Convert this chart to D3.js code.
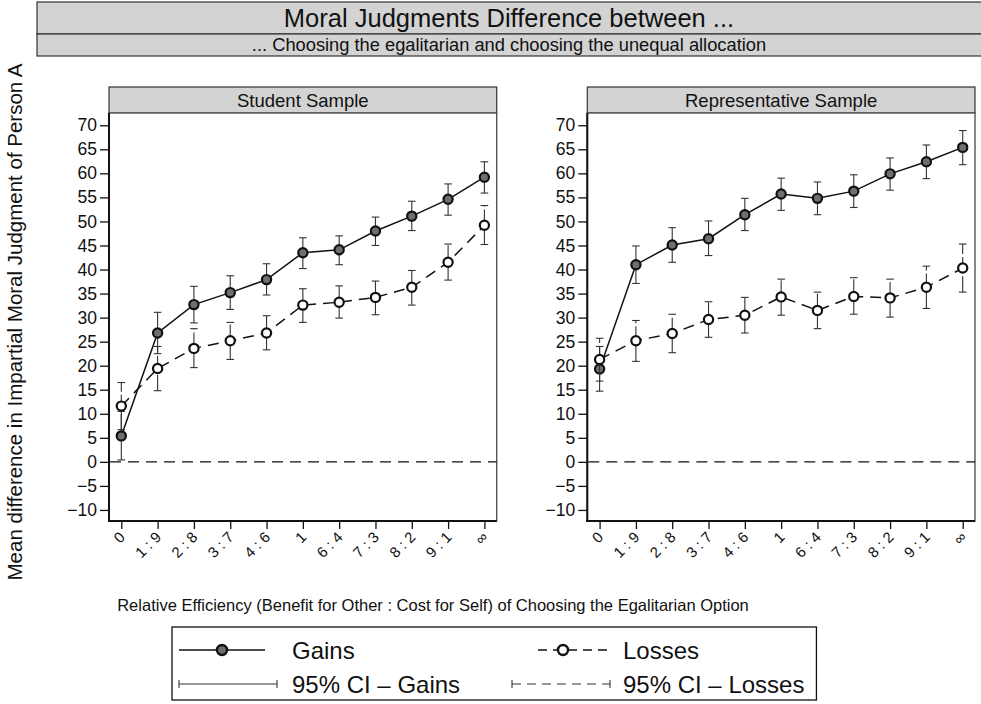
<!DOCTYPE html>
<html>
<head>
<meta charset="utf-8">
<script src="https://cdn.jsdelivr.net/npm/d3@7"></script>
<style>
  html, body { margin: 0; padding: 0; background: #fff; }
  svg { display: block; font-family: "Liberation Sans", Arial, Helvetica, sans-serif; }
</style>
</head>
<body>
<svg id="chart" width="981" height="704"></svg>
<script>
// Efficiency ratios (benefit for other : cost for self)
const categories = ["0", "1 : 9", "2 : 8", "3 : 7", "4 : 6", "1", "6 : 4", "7 : 3", "8 : 2", "9 : 1", "\u221E"];
const yTicks = d3.range(-10, 71, 5);

// Student sample: means and 95% confidence bounds
const studentGains   = [5.4, 26.8, 32.7, 35.2, 37.9, 43.5, 44.1, 48.0, 51.1, 54.6, 59.2];
const studentGainsLo = [0.4, 22.5, 28.9, 31.7, 34.7, 40.2, 41.0, 45.0, 48.1, 51.3, 55.9];
const studentGainsHi = [10.5, 31.1, 36.5, 38.7, 41.2, 46.6, 47.0, 50.9, 54.2, 57.8, 62.4];
const studentLosses   = [11.6, 19.4, 23.6, 25.2, 26.8, 32.6, 33.2, 34.2, 36.3, 41.5, 49.2];
const studentLossesLo = [6.7, 14.8, 19.6, 21.3, 23.3, 29.0, 29.9, 30.6, 32.6, 37.8, 45.2];
const studentLossesHi = [16.5, 24.0, 27.7, 29.0, 30.4, 36.0, 36.6, 37.6, 39.8, 45.3, 53.3];

// Representative sample: means and 95% confidence bounds
const repGains   = [19.3, 41.0, 45.1, 46.4, 51.4, 55.7, 54.8, 56.3, 59.9, 62.4, 65.4];
const repGainsLo = [14.7, 37.1, 41.5, 42.9, 48.1, 52.3, 51.4, 52.9, 56.5, 58.9, 61.8];
const repGainsHi = [24.0, 44.9, 48.7, 50.1, 54.8, 59.0, 58.2, 59.7, 63.2, 65.9, 68.9];
const repLosses   = [21.3, 25.2, 26.7, 29.6, 30.5, 34.3, 31.5, 34.4, 34.1, 36.3, 40.3];
const repLossesLo = [16.8, 20.9, 22.7, 25.9, 26.8, 30.5, 27.7, 30.7, 30.1, 31.9, 35.3];
const repLossesHi = [25.7, 29.4, 30.7, 33.3, 34.2, 38.0, 35.3, 38.3, 38.0, 40.7, 45.3];

const panelTitles = ["Student Sample", "Representative Sample"];
const titleText = "Moral Judgments Difference between ...";
const subtitleText = "... Choosing the egalitarian and choosing the unequal allocation";
const xTitle = "Relative Efficiency (Benefit for Other : Cost for Self) of Choosing the Egalitarian Option";
const yTitle = "Mean difference in Impartial Moral Judgment of Person A";
const legendLabels = ["Gains", "Losses", "95% CI \u2013 Gains", "95% CI \u2013 Losses"];

const panels = [
  { title: panelTitles[0], gains: studentGains, gLo: studentGainsLo, gHi: studentGainsHi,
    losses: studentLosses, lLo: studentLossesLo, lHi: studentLossesHi },
  { title: panelTitles[1], gains: repGains, gLo: repGainsLo, gHi: repGainsHi,
    losses: repLosses, lLo: repLossesLo, lHi: repLossesHi }
];

const svg = d3.select("#chart");
const GRAY_FILL = "#d3d3d3";
const GAIN_FILL = "#6f6f6f";
const DASH = "11,7";
const FONT = "'Liberation Sans', Arial, sans-serif";

// Overall title boxes
const tb = svg.append("g");
tb.append("rect").attr("x", 37).attr("y", 2).attr("width", 960).attr("height", 32)
  .attr("fill", GRAY_FILL).attr("stroke", "#333").attr("stroke-width", 1.2);
tb.append("text").attr("x", 509).attr("y", 26.5).attr("text-anchor", "middle")
  .attr("font-size", 25.5).attr("fill", "#111").text(titleText);
tb.append("rect").attr("x", 37).attr("y", 34).attr("width", 960).attr("height", 22)
  .attr("fill", GRAY_FILL).attr("stroke", "#333").attr("stroke-width", 1.2);
tb.append("text").attr("x", 509).attr("y", 51).attr("text-anchor", "middle")
  .attr("font-size", 18.3).attr("fill", "#111").text(subtitleText);

// Shared y scale
const plotTop = 113, plotBottom = 521;
const y = d3.scaleLinear().domain([-12.3, 72.55]).range([plotBottom, plotTop]);

const panelX = [109, 587.3];
const panelW = 387.7;
const inset = 12.3;

panels.forEach((p, i) => {
  const x0 = panelX[i], x1 = x0 + panelW;
  const x = d3.scalePoint().domain(categories).range([x0 + inset, x1 - inset]);
  const g = svg.append("g");

  // strip
  g.append("rect").attr("x", x0).attr("y", 87).attr("width", panelW).attr("height", plotTop - 87)
    .attr("fill", GRAY_FILL).attr("stroke", "#333").attr("stroke-width", 1.2);
  g.append("text").attr("x", (x0 + x1) / 2).attr("y", 107).attr("text-anchor", "middle")
    .attr("font-size", 18.5).attr("fill", "#111").text(p.title);

  // plot region outline (top and right)
  g.append("rect").attr("x", x0).attr("y", plotTop).attr("width", panelW).attr("height", plotBottom - plotTop)
    .attr("fill", "#fff").attr("stroke", "#555").attr("stroke-width", 1.4);

  // y axis
  const yAxis = d3.axisLeft(y).tickValues(yTicks).tickSize(9).tickPadding(3)
    .tickFormat(d => d < 0 ? "\u2212" + Math.abs(d) : String(d));
  const ya = g.append("g").attr("transform", `translate(${x0},0)`).call(yAxis);
  ya.select(".domain").remove();
  ya.selectAll("line").attr("stroke", "#111").attr("stroke-width", 1.3);
  ya.selectAll("text").attr("font-size", 17.5).attr("fill", "#111").attr("font-family", FONT);

  // x axis
  const xAxis = d3.axisBottom(x).tickSize(8).tickSizeOuter(0);
  const xa = g.append("g").attr("transform", `translate(0,${plotBottom})`).call(xAxis);
  xa.select(".domain").remove();
  xa.selectAll("line").attr("stroke", "#111").attr("stroke-width", 1.3);
  xa.selectAll("text")
    .attr("font-size", 15).attr("fill", "#111").attr("font-family", FONT)
    .attr("text-anchor", "end")
    .attr("y", 0).attr("dy", 0)
    .attr("transform", "translate(4,17) rotate(-45)");

  // axis lines (left and bottom)
  g.append("line").attr("x1", x0).attr("x2", x0).attr("y1", plotTop).attr("y2", plotBottom + 1)
    .attr("stroke", "#111").attr("stroke-width", 2);
  g.append("line").attr("x1", x0 - 1).attr("x2", x1).attr("y1", plotBottom).attr("y2", plotBottom)
    .attr("stroke", "#111").attr("stroke-width", 2);

  // zero reference line
  g.append("line").attr("x1", x0 + 1).attr("x2", x1).attr("y1", y(0)).attr("y2", y(0))
    .attr("stroke", "#111").attr("stroke-width", 1.3).attr("stroke-dasharray", DASH);

  const series = [
    { m: p.gains, lo: p.gLo, hi: p.gHi, fill: GAIN_FILL, dash: null, ciDash: null },
    { m: p.losses, lo: p.lLo, hi: p.lHi, fill: "#fff", dash: DASH, ciDash: "16,3" }
  ];

  series.forEach(s => {
    const pts = categories.map((c, k) => ({ c, m: s.m[k], lo: s.lo[k], hi: s.hi[k] }));
    const ci = g.append("g").attr("stroke", "#333").attr("stroke-width", 1.1).attr("fill", "none");
    pts.forEach(d => {
      const cx = x(d.c);
      ci.append("line").attr("x1", cx).attr("x2", cx).attr("y1", y(d.lo)).attr("y2", y(d.hi))
        .attr("stroke-dasharray", s.ciDash);
      ci.append("line").attr("x1", cx - 3.8).attr("x2", cx + 3.8).attr("y1", y(d.lo)).attr("y2", y(d.lo));
      ci.append("line").attr("x1", cx - 3.8).attr("x2", cx + 3.8).attr("y1", y(d.hi)).attr("y2", y(d.hi));
    });
    g.append("path").datum(pts)
      .attr("d", d3.line().x(d => x(d.c)).y(d => y(d.m)))
      .attr("fill", "none").attr("stroke", "#111").attr("stroke-width", 1.5)
      .attr("stroke-dasharray", s.dash);
    g.append("g").selectAll("circle").data(pts).join("circle")
      .attr("cx", d => x(d.c)).attr("cy", d => y(d.m)).attr("r", 4.6)
      .attr("fill", s.fill).attr("stroke", "#111").attr("stroke-width", 2.2);
  });
});

// axis titles
svg.append("text").attr("x", 433).attr("y", 611).attr("text-anchor", "middle")
  .attr("font-size", 16.5).attr("fill", "#111").text(xTitle);
svg.append("text").attr("transform", "translate(22,322) rotate(-90)").attr("text-anchor", "middle")
  .attr("font-size", 20.5).attr("fill", "#111").text(yTitle);

// legend
const lg = svg.append("g");
const row1 = 650, row2 = 684;
const LFS = 24;
const legendBox = lg.append("rect").attr("x", 172).attr("y", 627).attr("height", 73)
  .attr("fill", "#fff").attr("stroke", "#111").attr("stroke-width", 1.3);
// Gains
lg.append("line").attr("x1", 179).attr("x2", 265).attr("y1", row1).attr("y2", row1)
  .attr("stroke", "#111").attr("stroke-width", 1.5);
lg.append("circle").attr("cx", 222).attr("cy", row1).attr("r", 5)
  .attr("fill", GAIN_FILL).attr("stroke", "#111").attr("stroke-width", 2.4);
lg.append("text").attr("x", 292).attr("y", row1 + 9).attr("font-size", LFS).attr("fill", "#111").text(legendLabels[0]);
// Losses
lg.append("line").attr("x1", 538).attr("x2", 608).attr("y1", row1).attr("y2", row1)
  .attr("stroke", "#111").attr("stroke-width", 1.5).attr("stroke-dasharray", "9,6");
lg.append("circle").attr("cx", 563).attr("cy", row1).attr("r", 5)
  .attr("fill", "#fff").attr("stroke", "#111").attr("stroke-width", 2.4);
lg.append("text").attr("x", 623).attr("y", row1 + 9).attr("font-size", LFS).attr("fill", "#111").text(legendLabels[1]);
// CI Gains
lg.append("line").attr("x1", 179).attr("x2", 277).attr("y1", row2).attr("y2", row2)
  .attr("stroke", "#333").attr("stroke-width", 1.1);
[179, 277].forEach(xx => lg.append("line").attr("x1", xx).attr("x2", xx).attr("y1", row2 - 4).attr("y2", row2 + 4)
  .attr("stroke", "#333").attr("stroke-width", 1.1));
lg.append("text").attr("x", 292).attr("y", row2 + 9).attr("font-size", LFS).attr("fill", "#111").text(legendLabels[2]);
// CI Losses
lg.append("line").attr("x1", 512).attr("x2", 610).attr("y1", row2).attr("y2", row2)
  .attr("stroke", "#333").attr("stroke-width", 1.1).attr("stroke-dasharray", "9,6");
[512, 610].forEach(xx => lg.append("line").attr("x1", xx).attr("x2", xx).attr("y1", row2 - 4).attr("y2", row2 + 4)
  .attr("stroke", "#333").attr("stroke-width", 1.1));
const lastLabel = lg.append("text").attr("x", 623).attr("y", row2 + 9).attr("font-size", LFS).attr("fill", "#111").text(legendLabels[3]);
// box wraps the widest label
const textEnd = 623 + lastLabel.node().getComputedTextLength();
legendBox.attr("width", textEnd + 12 - 172);
</script>
</body>
</html>
